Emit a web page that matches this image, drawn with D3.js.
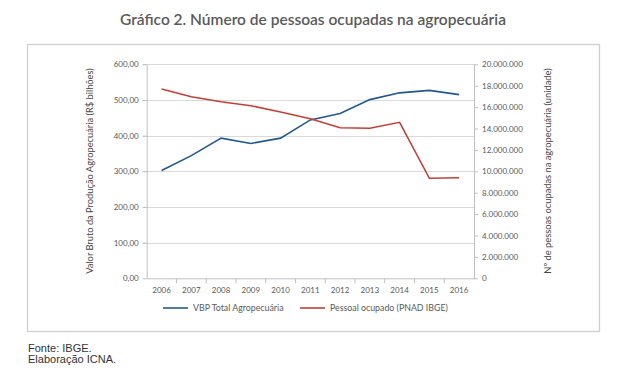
<!DOCTYPE html>
<html>
<head>
<meta charset="utf-8">
<script src="https://d3js.org/d3.v7.min.js"></script>
<style>
  body { margin: 0; background: #fff; }
  svg { display: block; }
</style>
</head>
<body>
<script>
var years = ["2006", "2007", "2008", "2009", "2010", "2011", "2012", "2013", "2014", "2015", "2016"];
var vbp = [302, 344, 393, 378, 393, 444, 462, 501, 520, 527, 515];
var pessoal = [17690000, 16970000, 16500000, 16130000, 15540000, 14920000, 14070000, 14020000, 14580000, 9350000, 9400000];
var leftTicks = [0, 100, 200, 300, 400, 500, 600];
var rightTicks = [0, 2000000, 4000000, 6000000, 8000000, 10000000, 12000000, 14000000, 16000000, 18000000, 20000000];

var width = 640, height = 378;
var svg = d3.select("body").append("svg")
    .attr("width", width)
    .attr("height", height);

var font = "Lato, 'Open Sans', sans-serif";

// title and frame
svg.append("text")
    .attr("x", 313).attr("y", 25)
    .attr("text-anchor", "middle")
    .style("font-family", font)
    .style("font-size", "15.5px")
    .style("font-weight", "600")
    .attr("fill", "#5a5a5a")
    .text("Gráfico 2. Número de pessoas ocupadas na agropecuária");

svg.append("rect")
    .attr("x", 27.5).attr("y", 44.5)
    .attr("width", 572).attr("height", 287)
    .attr("fill", "none")
    .attr("stroke", "#cfcfcf")
    .attr("stroke-width", 1.3);

var plotL = 146.7, plotR = 474, plotT = 64.3, plotB = 278.3;

var x = d3.scaleBand().domain(years).range([plotL, plotR]);
var yL = d3.scaleLinear().domain([0, 600]).range([plotB, plotT]);
var yR = d3.scaleLinear().domain([0, 20000000]).range([plotB, plotT]);

// gridlines
svg.append("g")
    .selectAll("line")
    .data(leftTicks.filter(function(d) { return d > 0; }))
    .enter().append("line")
    .attr("x1", plotL - 4).attr("x2", plotR)
    .attr("y1", function(d) { return Math.round(yL(d)) + 0.5; })
    .attr("y2", function(d) { return Math.round(yL(d)) + 0.5; })
    .attr("stroke", "#d9d9d9");

var ptBR = d3.formatLocale({decimal: ",", thousands: ".", grouping: [3], currency: ["R$", ""]});
var fmtL = ptBR.format(",.2f");
var fmtR = ptBR.format(",.0f");

var tickStyle = function(g) {
    g.selectAll("text")
        .style("font-family", font)
        .style("font-size", "8px")
        .attr("fill", "#595959");
    g.selectAll("line").attr("stroke", "#bfbfbf");
    g.select(".domain").attr("stroke", "#bfbfbf");
};

svg.append("g")
    .attr("transform", "translate(" + plotL + ",0)")
    .call(d3.axisLeft(yL).tickValues(leftTicks).tickFormat(fmtL).tickSize(4).tickSizeOuter(0).tickPadding(4))
    .call(tickStyle);

svg.append("g")
    .attr("transform", "translate(" + plotR + ",0)")
    .call(d3.axisRight(yR).tickValues(rightTicks).tickFormat(fmtR).tickSize(4).tickSizeOuter(0).tickPadding(4))
    .call(tickStyle);

var xAxis = svg.append("g")
    .attr("transform", "translate(0," + plotB + ")")
    .call(d3.axisBottom(x).tickSize(0).tickPadding(9))
    .call(tickStyle);
xAxis.selectAll(".sep")
    .data(years.slice(1))
    .enter().append("line")
    .attr("class", "sep")
    .attr("x1", function(d) { return x(d); })
    .attr("x2", function(d) { return x(d); })
    .attr("y1", 0).attr("y2", 5)
    .attr("stroke", "#bfbfbf");

// axis titles
svg.append("text")
    .attr("transform", "translate(93,171) rotate(-90)")
    .attr("text-anchor", "middle")
    .style("font-family", font)
    .style("font-size", "9.3px")
    .attr("fill", "#454545")
    .text("Valor Bruto da Produção Agropecuária (R$ bilhões)");

svg.append("text")
    .attr("transform", "translate(551,171) rotate(-90)")
    .attr("text-anchor", "middle")
    .style("font-family", font)
    .style("font-size", "9.3px")
    .attr("fill", "#454545")
    .text("Nº de pessoas ocupadas na agropecuária (unidade)");

// lines
var cx = function(i) { return x(years[i]) + x.bandwidth() / 2; };

svg.append("path")
    .datum(vbp)
    .attr("fill", "none")
    .attr("stroke", "#24578e")
    .attr("stroke-width", 1.6)
    .attr("d", d3.line().x(function(d, i) { return cx(i); }).y(function(d) { return yL(d); }));

svg.append("path")
    .datum(pessoal)
    .attr("fill", "none")
    .attr("stroke", "#c1403a")
    .attr("stroke-width", 1.6)
    .attr("d", d3.line().x(function(d, i) { return cx(i); }).y(function(d) { return yR(d); }));

// legend
var legend = [
    {name: "VBP Total Agropecuária", color: "#24578e", x: 163},
    {name: "Pessoal ocupado (PNAD IBGE)", color: "#c1403a", x: 300}
];
var lg = svg.append("g").selectAll("g").data(legend).enter().append("g")
    .attr("transform", function(d) { return "translate(" + d.x + ",308)"; });
lg.append("line")
    .attr("x1", 0).attr("x2", 25)
    .attr("stroke", function(d) { return d.color; })
    .attr("stroke-width", 1.6);
lg.append("text")
    .attr("x", 30).attr("dy", "0.35em")
    .style("font-family", font)
    .style("font-size", "8.8px")
    .attr("fill", "#595959")
    .text(function(d) { return d.name; });

// source note
var note = svg.append("text")
    .style("font-family", "'Liberation Sans', Arial, sans-serif")
    .style("font-size", "11px")
    .attr("fill", "#333");
note.append("tspan").attr("x", 28).attr("y", 352).text("Fonte: IBGE.");
note.append("tspan").attr("x", 28).attr("y", 363).text("Elaboração ICNA.");
</script>
</body>
</html>
